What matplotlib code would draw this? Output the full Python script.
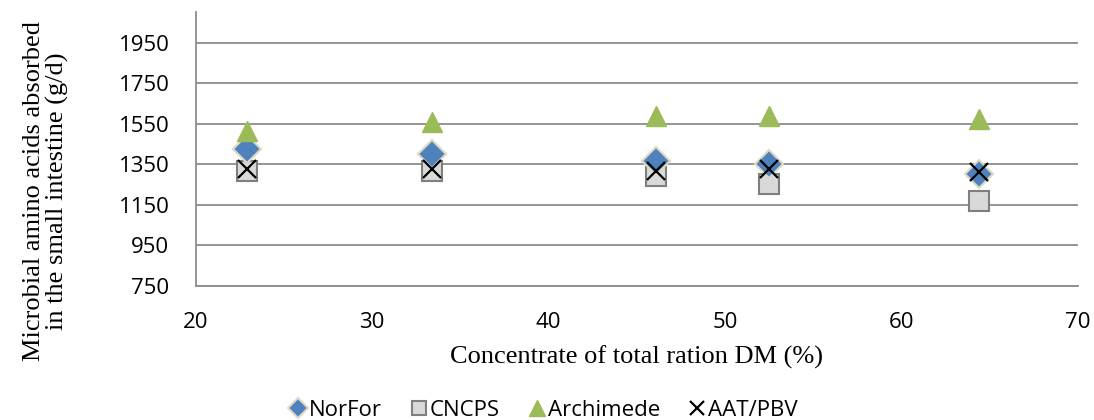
import matplotlib.pyplot as plt
import numpy as np

# concentrate share of ration DM (%)
conc = np.array([22.9, 33.4, 46.1, 52.5, 64.4])

# microbial AA absorbed (g/d) per model
norfor = np.array([1425, 1402, 1368, 1350, 1300])
cncps = np.array([1318, 1318, 1294, 1252, 1170])
archimede = np.array([1514, 1558, 1588, 1588, 1575])
aat_pbv = np.array([1328, 1326, 1318, 1328, 1311])

serif = ['Liberation Serif', 'DejaVu Serif']
sans = ['Open Sans', 'DejaVu Sans']

fig = plt.figure(figsize=(10.94, 4.2), dpi=100)
ax = fig.add_axes([0.179, 0.319, 0.806, 0.652])

ax.plot(conc, norfor, 'D', ms=14, color='#4F81BD', mec='#DDD9C3', mew=1.5, label='NorFor', zorder=3)
ax.plot(conc, cncps, 's', ms=14, color='#D9D9D9', mec='#7F7F7F', mew=1.5, label='CNCPS', zorder=2)
ax.plot(conc, archimede, '^', ms=15, color='#9BBB59', mec='#9BBB59', label='Archimede', zorder=3)
ax.plot(conc, aat_pbv, 'x', ms=13, color='black', mew=1.6, label='AAT/PBV', zorder=4)

ax.set_xlim(20, 70)
ax.set_ylim(750, 2100)
ax.set_xticks([20, 30, 40, 50, 60, 70])
ax.set_yticks(np.arange(750, 2000, 200))
ax.grid(axis='y', color='#8C8C8C', lw=1.3)
ax.set_axisbelow(True)
for s in ['top', 'right']:
    ax.spines[s].set_visible(False)
for s in ['left', 'bottom']:
    ax.spines[s].set_color('#8C8C8C')
    ax.spines[s].set_linewidth(1.3)
ax.tick_params(axis='y', length=0, pad=19, labelsize=16)
ax.tick_params(axis='x', length=0, pad=19, labelsize=16)
for lab in ax.get_xticklabels() + ax.get_yticklabels():
    lab.set_family(sans)

fig.text(637 / 1094, 1 - 357 / 420, 'Concentrate of total ration DM (%)', family=serif,
         fontsize=19, ha='center', va='center')
fig.text(46 / 1094, 1 - 191 / 420, 'Microbial amino acids absorbed\nin the small intestine (g/d)',
         family=serif, fontsize=19, ha='center', va='center', rotation=90, linespacing=1.0)

fig.legend(loc='center', bbox_to_anchor=(0.496, 1 - 410 / 420), ncol=4, frameon=False,
           prop={'family': sans, 'size': 16}, handlelength=0.9, handletextpad=0.05,
           columnspacing=1.2, markerscale=0.75)

fig.savefig('out.png', dpi=100)
